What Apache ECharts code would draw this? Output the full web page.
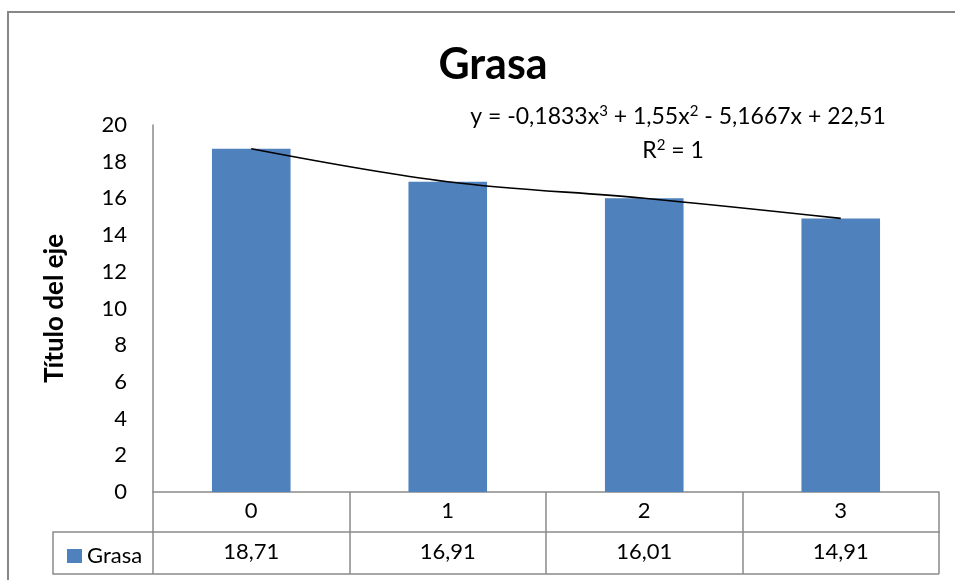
<!DOCTYPE html>
<html>
<head>
<meta charset="utf-8">
<script src="https://cdn.jsdelivr.net/npm/echarts@6/dist/echarts.min.js"></script>
<style>
  html, body { margin: 0; padding: 0; background: #fff; }
  #chart { width: 955px; height: 580px; }
</style>
</head>
<body>
<div id="chart"></div>
<script>
// Grasa - barras con linea de tendencia polinomica y tabla de datos

var categorias = ['0', '1', '2', '3'];
var grasa = [18.71, 16.91, 16.01, 14.91];
var ecuacion = 'y = -0,1833x{s|3} + 1,55x{s|2} - 5,1667x + 22,51';
var r2 = 'R{s|2} = 1';

var fuente = 'Lato';
var gris = '#8a8a8a';

function coma(v) {
    return v.toFixed(2).replace('.', ',');
}

var sup = { fontFamily: fuente, fontSize: 15, verticalAlign: 'top', color: '#000', lineHeight: 25 };

var chart = echarts.init(document.getElementById('chart'));

var option = {
    animation: false,
    textStyle: { fontFamily: fuente, color: '#000' },
    title: [
        {
            text: 'Grasa',
            left: 488, top: 39, textAlign: 'center',
            textStyle: { fontFamily: fuente, fontSize: 43, fontWeight: 'bold', color: '#000' }
        },
        {
            text: ecuacion,
            left: 673, top: 99, textAlign: 'center',
            textStyle: {
                fontFamily: fuente, fontSize: 23, fontWeight: 'normal', color: '#000', lineHeight: 25,
                rich: { s: sup }
            }
        },
        {
            text: r2,
            left: 668, top: 133, textAlign: 'center',
            textStyle: {
                fontFamily: fuente, fontSize: 23, fontWeight: 'normal', color: '#000', lineHeight: 25,
                rich: { s: sup }
            }
        }
    ],
    legend: {
        data: ['Grasa'],
        left: 62, top: 540,
        icon: 'rect',
        itemWidth: 15, itemHeight: 14,
        itemGap: 5,
        textStyle: { fontFamily: fuente, fontSize: 22, color: '#000', padding: [0, 0, 0, 0] }
    },
    grid: { left: 153, right: 16, top: 125, bottom: 88 },
    xAxis: [
        {
            type: 'category',
            data: categorias,
            axisLine: { lineStyle: { color: gris, width: 1.5 } },
            axisTick: { show: true, length: 82, lineStyle: { color: gris, width: 1.5 } },
            axisLabel: { fontSize: 22, color: '#000', margin: 8 },
            splitLine: { show: false }
        },
        {
            type: 'category',
            data: categorias,
            position: 'bottom',
            offset: 40,
            axisLine: { lineStyle: { color: gris, width: 1.5 } },
            axisTick: { show: false },
            axisLabel: {
                fontSize: 22, color: '#000', margin: 9,
                formatter: function (v, i) { return coma(grasa[i]); }
            },
            splitLine: { show: false }
        }
    ],
    yAxis: {
        type: 'value',
        min: 0, max: 20, interval: 2,
        name: 'Título del eje',
        nameLocation: 'middle',
        nameGap: 85,
        nameTextStyle: { fontFamily: fuente, fontSize: 26, fontWeight: 'bold', color: '#000' },
        axisLine: { show: true, lineStyle: { color: gris, width: 1.5 } },
        axisTick: { show: false },
        axisLabel: { fontSize: 22, color: '#000', margin: 26 },
        splitLine: { show: false }
    },
    graphic: [
        {
            type: 'rect', silent: true,
            shape: { x: 8, y: 12, width: 1000, height: 620 },
            style: { fill: null, stroke: '#878787', lineWidth: 2 }
        },
        {
            type: 'polyline', silent: true,
            shape: { points: [[153, 532], [53, 532], [53, 574], [939, 574]] },
            style: { fill: null, stroke: gris, lineWidth: 1.5 }
        }
    ],
    series: [
        {
            name: 'Grasa',
            type: 'bar',
            data: grasa,
            barWidth: '40%',
            itemStyle: { color: '#4f81bd' }
        },
        {
            name: 'Tendencia',
            type: 'line',
            data: grasa,
            smooth: 0.35,
            symbol: 'none',
            lineStyle: { color: '#000', width: 1.6 },
            z: 5
        }
    ]
};

chart.setOption(option);
</script>
</body>
</html>
